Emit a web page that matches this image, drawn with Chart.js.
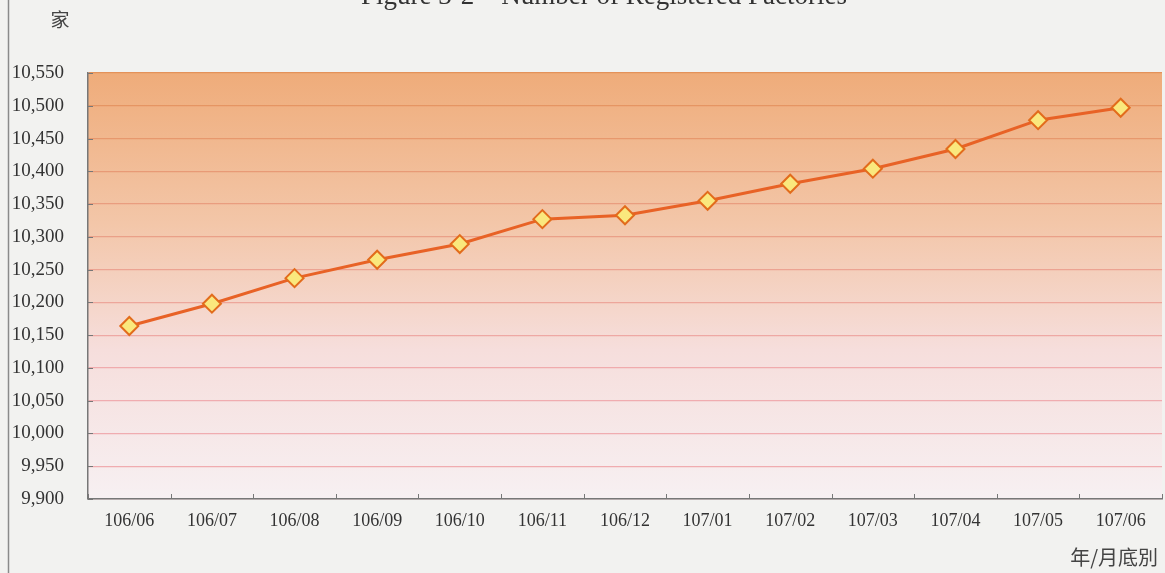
<!DOCTYPE html>
<html>
<head>
<meta charset="utf-8">
<script src="https://cdn.jsdelivr.net/npm/chart.js@4.4.1/dist/chart.umd.min.js"></script>
<style>
  html, body { margin: 0; padding: 0; background: #f2f2f0; overflow: hidden; }
  #c { display: block; }
</style>
</head>
<body>
<canvas id="c" width="1165" height="573"></canvas>
<script>
const months = ['106/06', '106/07', '106/08', '106/09', '106/10', '106/11', '106/12',
    '107/01', '107/02', '107/03', '107/04', '107/05', '107/06'];
const factories = [10164, 10198, 10237, 10265, 10289, 10327, 10333,
    10355, 10381, 10404, 10434, 10478, 10497];
const yMin = 9900;
const yMax = 10550;
const yStep = 50;

const serif = '"Liberation Serif", "DejaVu Serif", serif';
const cjk = '"Noto Sans CJK TC", "Noto Sans CJK SC", sans-serif';

function mix(a, b, t) {
    return 'rgb(' + a.map((v, i) => Math.round(v + (b[i] - v) * t)).join(',') + ')';
}

const decor = {
    id: 'decor',
    beforeDraw(chart) {
        const { ctx, chartArea: a } = chart;
        const g = ctx.createLinearGradient(0, a.top, 0, a.bottom);
        g.addColorStop(0, 'rgb(239,172,122)');
        g.addColorStop(0.35, 'rgb(243,198,168)');
        g.addColorStop(0.65, 'rgb(246,222,220)');
        g.addColorStop(1, 'rgb(247,240,242)');
        ctx.save();
        ctx.fillStyle = g;
        ctx.fillRect(a.left, a.top, a.right - a.left, a.bottom - a.top);
        ctx.restore();
    },
    afterDraw(chart) {
        const { ctx, chartArea: a, scales } = chart;
        ctx.save();
        // page border line on the left
        ctx.strokeStyle = '#8a8a8a';
        ctx.lineWidth = 1.5;
        ctx.beginPath();
        ctx.moveTo(8.5, 0);
        ctx.lineTo(8.5, 573);
        ctx.stroke();
        // inward tick marks
        ctx.strokeStyle = '#777';
        ctx.lineWidth = 1;
        ctx.beginPath();
        for (let v = yMin; v <= yMax; v += yStep) {
            const y = Math.round(scales.y.getPixelForValue(v)) + 0.5;
            ctx.moveTo(a.left, y);
            ctx.lineTo(a.left + 5, y);
        }
        const half = (scales.x.getPixelForValue(1) - scales.x.getPixelForValue(0)) / 2;
        for (let i = 0; i <= months.length; i++) {
            const x = Math.round(scales.x.getPixelForValue(i) - half) + 0.5;
            ctx.moveTo(x, a.bottom);
            ctx.lineTo(x, a.bottom - 5);
        }
        ctx.stroke();
        // title (cut off at the top of the page)
        ctx.fillStyle = '#333';
        ctx.font = '27px ' + serif;
        ctx.textAlign = 'center';
        ctx.textBaseline = 'alphabetic';
        ctx.fillText('Figure 3-2\u00a0\u00a0\u00a0\u00a0Number of Registered Factories', 604, 4);
        // unit labels
        ctx.font = '19px ' + cjk;
        ctx.fillStyle = '#444';
        ctx.textBaseline = 'middle';
        ctx.fillText('家', 60, 20);
        ctx.font = '20px ' + cjk;
        ctx.textAlign = 'right';
        ctx.fillText('年/月底別', 1158, 557);
        ctx.restore();
    }
};

new Chart(document.getElementById('c'), {
    type: 'line',
    data: {
        labels: months,
        datasets: [{
            data: factories,
            borderColor: 'rgb(232,98,38)',
            borderWidth: 3,
            pointStyle: 'rectRot',
            pointRadius: 9,
            pointHoverRadius: 9,
            pointBackgroundColor: 'rgb(250,232,125)',
            pointBorderColor: 'rgb(226,108,28)',
            pointBorderWidth: 2,
            tension: 0,
        }],
    },
    options: {
        responsive: false,
        animation: false,
        layout: { autoPadding: false, padding: { top: 73, right: 3, left: 0, bottom: 0 } },
        plugins: {
            legend: { display: false },
            tooltip: { enabled: false },
        },
        scales: {
            x: {
                offset: true,
                grid: { display: false, drawTicks: false },
                border: { color: '#777', width: 1.5 },
                ticks: { color: '#333', font: { family: serif, size: 18 }, padding: 11, maxRotation: 0 },
                afterFit(s) {
                    s.height = 74;
                    s.paddingLeft = 0;
                    s.paddingRight = 0;
                },
            },
            y: {
                min: yMin,
                max: yMax,
                ticks: {
                    stepSize: yStep,
                    color: '#333',
                    font: { family: serif, size: 19 },
                    padding: 24,
                    callback: v => v.toLocaleString('en-US'),
                },
                grid: {
                    drawTicks: false,
                    lineWidth: 1.2,
                    color: ctx => {
                        const t = (yMax - ctx.tick.value) / (yMax - yMin);
                        return mix([228, 146, 90], [240, 172, 176], Math.min(1, t * 1.4));
                    },
                },
                border: { color: '#777', width: 1.5 },
                afterFit(s) { s.width = 88; },
            },
        },
    },
    plugins: [decor],
});
</script>
</body>
</html>
